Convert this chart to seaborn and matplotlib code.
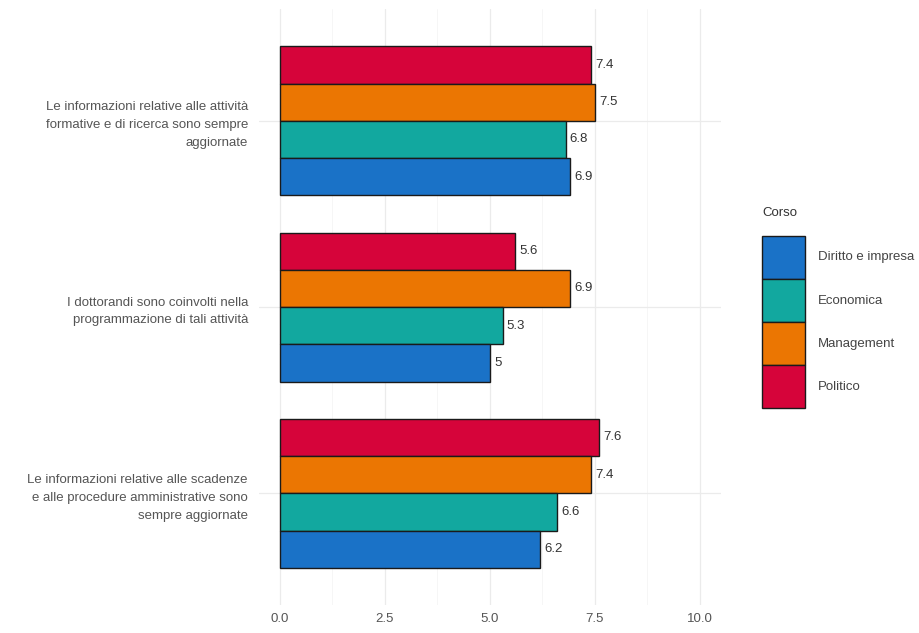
import matplotlib
matplotlib.use("Agg")
import matplotlib.pyplot as plt
from matplotlib.patches import Patch
from matplotlib.ticker import MultipleLocator
import seaborn as sns
import pandas as pd

categories = [
    "Le informazioni relative alle attività\nformative e di ricerca sono sempre\naggiornate",
    "I dottorandi sono coinvolti nella\nprogrammazione di tali attività",
    "Le informazioni relative alle scadenze\ne alle procedure amministrative sono\nsempre aggiornate",
]
corsi = ["Diritto e impresa", "Economica", "Management", "Politico"]
diritto = [6.9, 5.0, 6.2]
economica = [6.8, 5.3, 6.6]
management = [7.5, 6.9, 7.4]
politico = [7.4, 5.6, 7.6]
x_ticks = [0.0, 2.5, 5.0, 7.5, 10.0]

colors = {"Diritto e impresa": "#1a72c7", "Economica": "#12a89f",
          "Management": "#eb7602", "Politico": "#d6043a"}

rows = []
for name, vals in zip(corsi, [diritto, economica, management, politico]):
    for c, v in zip(categories, vals):
        rows.append({"cat": c, "Corso": name, "val": v})
df = pd.DataFrame(rows)

sns.set_theme(style="white")
plt.rcParams['font.family'] = ['Liberation Sans', 'DejaVu Sans']

fig = plt.figure(figsize=(9.2, 6.33), dpi=100)
ax = fig.add_axes([259/920, 1-605/633, (721-259)/920, (605-9)/633])

hue_order = ["Politico", "Management", "Economica", "Diritto e impresa"]
sns.barplot(data=df, y="cat", x="val", hue="Corso", order=categories,
            hue_order=hue_order, palette=colors, orient="h", width=0.8,
            edgecolor="#1a1a1a", linewidth=1.0, saturation=1, ax=ax, legend=False)

for cont in ax.containers:
    ax.bar_label(cont, fmt="{:g}", padding=3, fontsize=9.5, color="#333333")

ax.set_xlim(-0.5, 10.5)
ax.set_ylim(2.6, -0.6)
ax.set_xticks(x_ticks)
ax.set_xticklabels([f"{t:.1f}" for t in x_ticks])
ax.xaxis.set_minor_locator(MultipleLocator(1.25))
ax.set_xlabel("")
ax.set_ylabel("")
ax.set_axisbelow(True)
ax.grid(which="major", axis="both", color="#ebebeb", linewidth=0.9)
ax.grid(which="minor", axis="x", color="#f3f3f3", linewidth=0.5)
for s in ax.spines.values():
    s.set_visible(False)
ax.tick_params(axis="both", which="both", length=0, labelsize=9.5, labelcolor="#555555")
ax.tick_params(axis="y", pad=8)
ax.tick_params(axis="x", pad=6)
for lab in ax.get_yticklabels():
    lab.set_linespacing(1.65)

handles = [Patch(facecolor=colors[c], edgecolor="#1a1a1a", linewidth=1.0) for c in corsi]
leg = fig.legend(handles, corsi, title="Corso", loc="upper left",
                 bbox_to_anchor=(762/920, 1-207/633), frameon=False,
                 fontsize=9.5, title_fontsize=9.5, handlelength=3.26, handleheight=4.64,
                 labelspacing=0.0, handletextpad=1.0, borderaxespad=0, borderpad=0)
leg._legend_box.align = "left"
leg._legend_box.sep = 12
for t in leg.get_texts():
    t.set_color("#444444")
leg.get_title().set_color("#333333")

fig.savefig("out.png", dpi=100)
